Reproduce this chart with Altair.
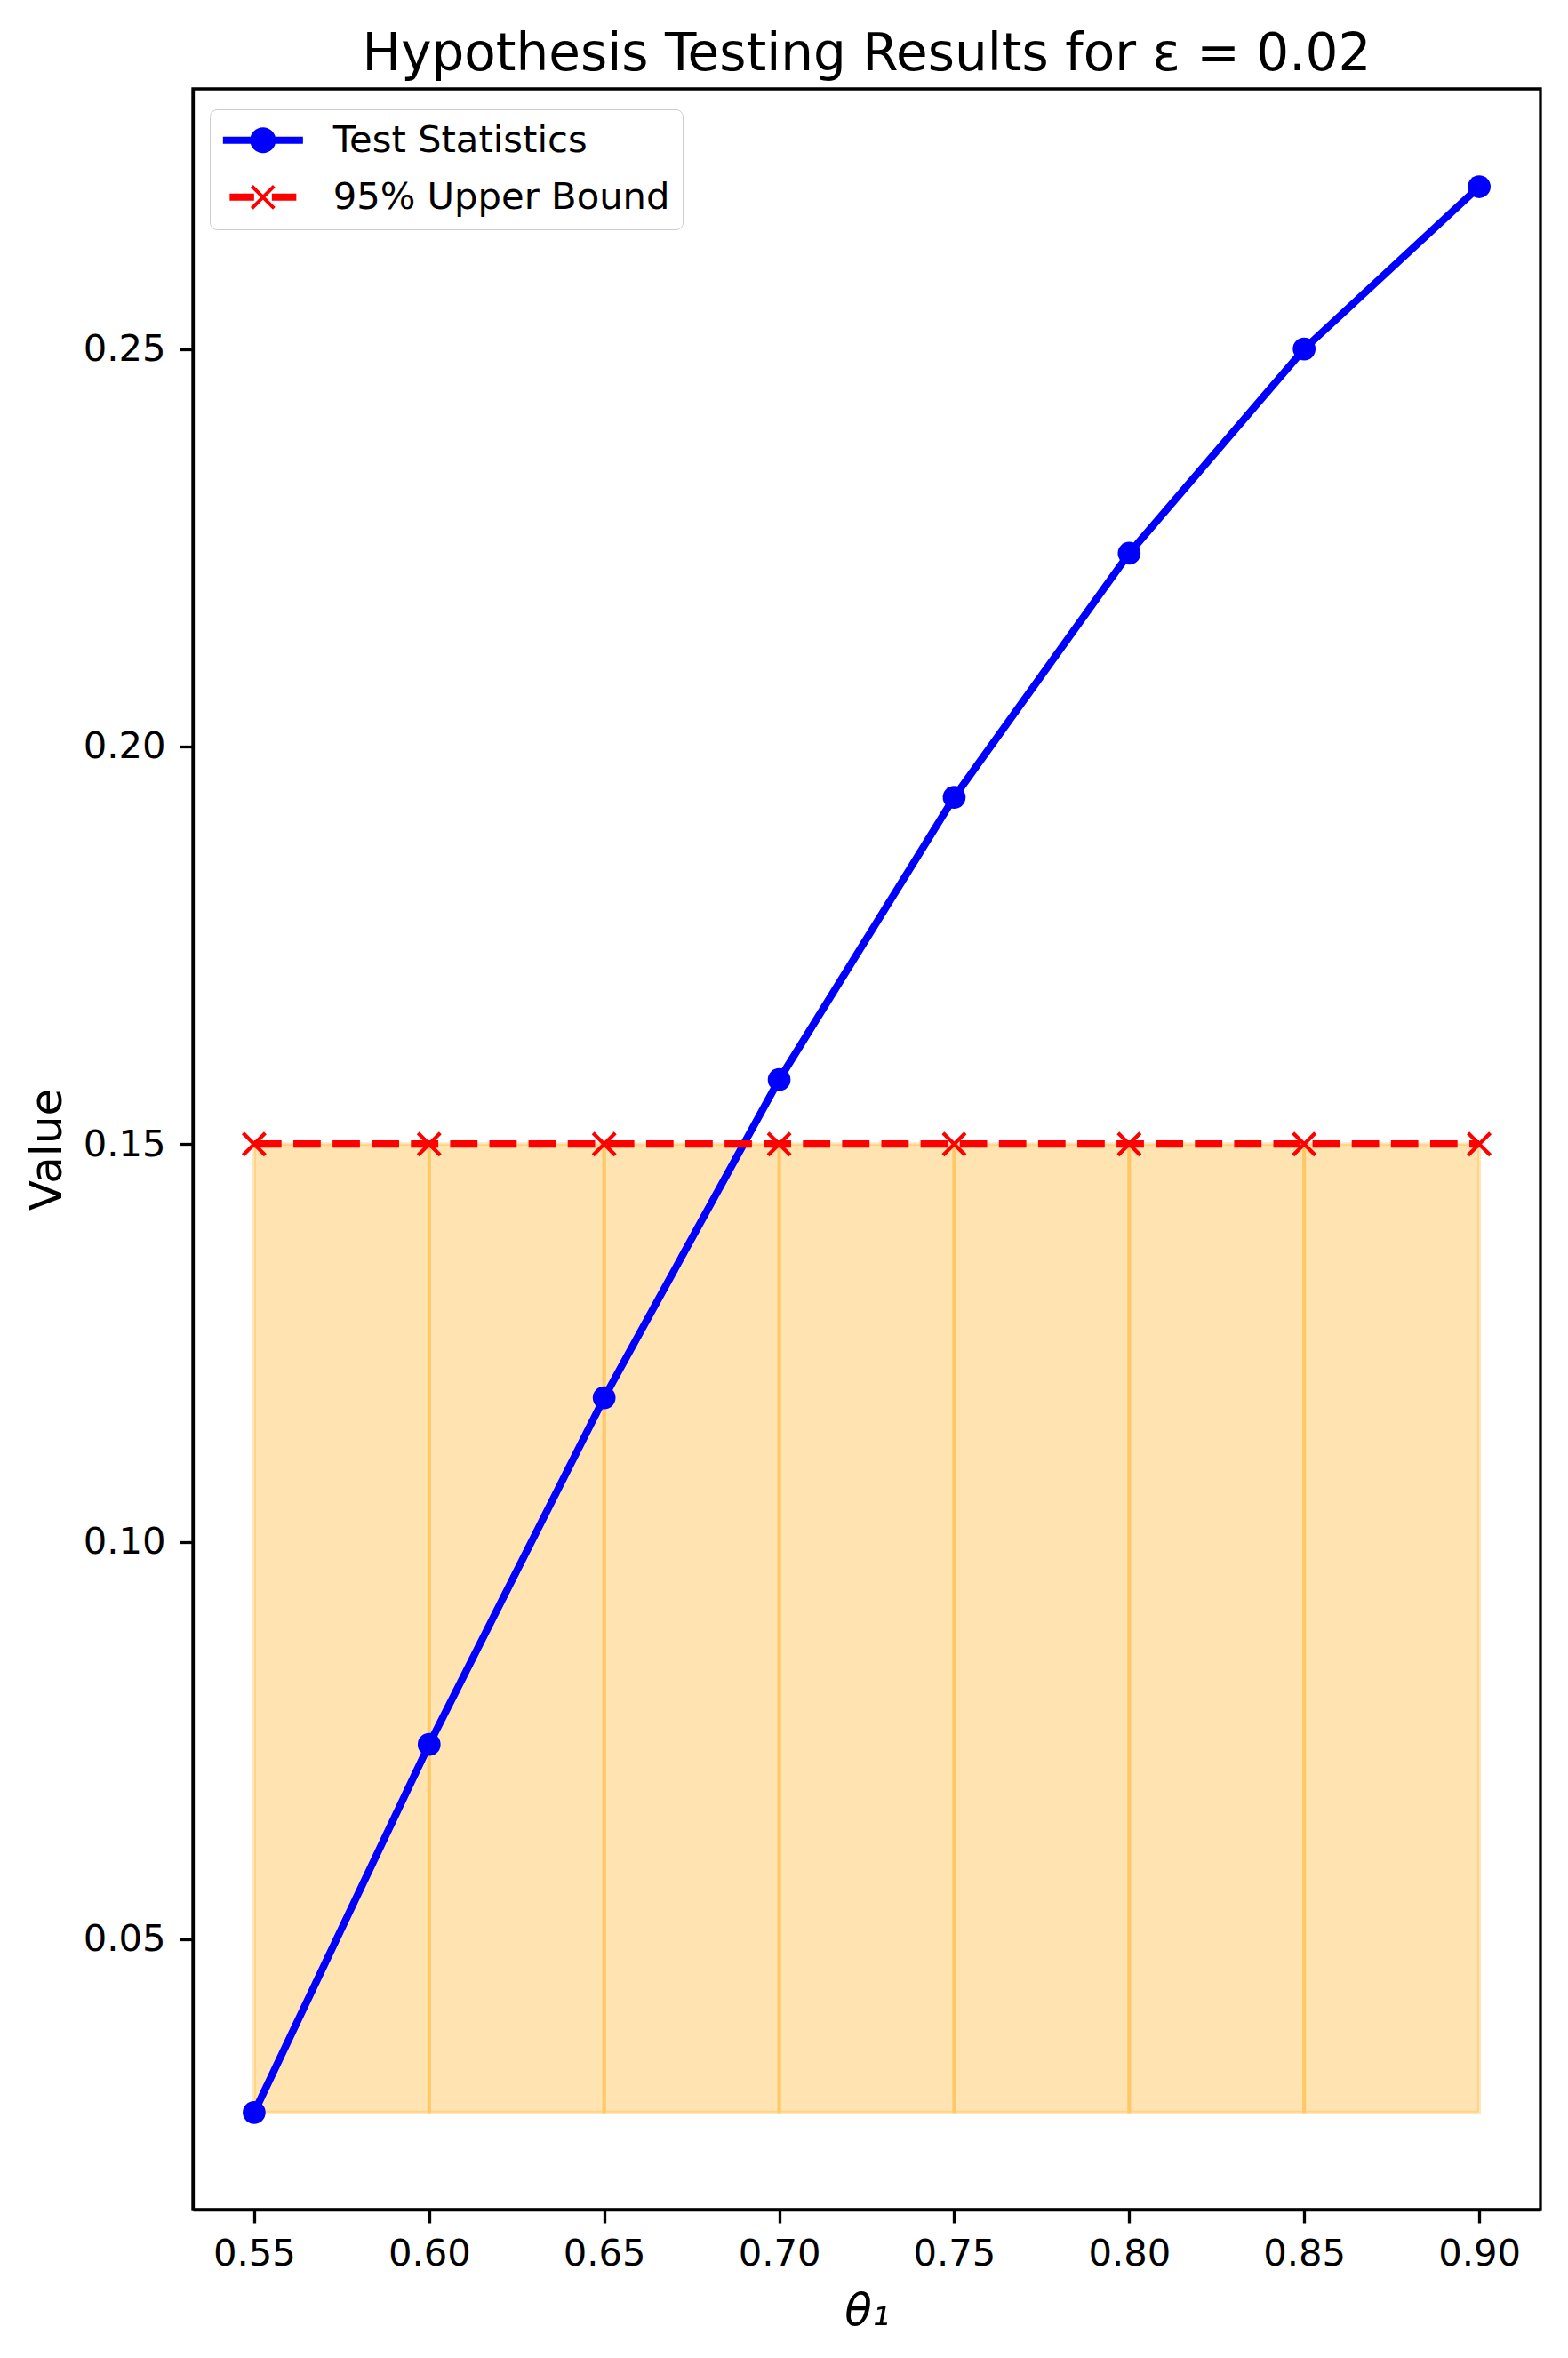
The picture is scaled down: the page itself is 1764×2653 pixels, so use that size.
import altair as alt
import pandas as pd

# ---- data ----
theta = [0.55, 0.60, 0.65, 0.70, 0.75, 0.80, 0.85, 0.90]
test_stat = [0.0282, 0.0745, 0.1181, 0.1581, 0.1936, 0.2243, 0.2500, 0.2704]
upper_bound = [0.15, 0.15, 0.15, 0.15, 0.15, 0.15, 0.15, 0.15]
series_names = ["Test Statistics", "95% Upper Bound"]
x_ticks = [0.55, 0.60, 0.65, 0.70, 0.75, 0.80, 0.85, 0.90]
y_ticks = [0.05, 0.10, 0.15, 0.20, 0.25]
title_text = "Hypothesis Testing Results for ε = 0.02"

FONT = "DejaVu Sans"

df_stat = pd.DataFrame({"theta": theta, "value": test_stat, "series": series_names[0]})
df_up = pd.DataFrame({"theta": theta, "value": upper_bound, "series": series_names[1]})
fill_low = min(test_stat)
df_fill = pd.DataFrame({
    "theta": theta[:-1],
    "theta_next": theta[1:],
    "value": [fill_low] * (len(theta) - 1),
    "top": upper_bound[:-1],
})
df_leg = pd.DataFrame({"series": series_names})

xscale = alt.Scale(domain=[0.5325, 0.9175], nice=False, zero=False)
yscale = alt.Scale(domain=[0.0160, 0.2827], nice=False, zero=False)

xaxis = alt.Axis(values=x_ticks, format=".2f", labelPadding=14, title="θ₁",
                 titleFontStyle="italic", titleX=758, titleY=129,
                 titleBaseline="alphabetic", titleAnchor="middle")
yaxis = alt.Axis(values=y_ticks, format=".2f", labelPadding=16, title="Value",
                 titleAngle=270, titleX=-149, titleY=1193,
                 titleBaseline="alphabetic", titleAlign="center")

X = alt.X("theta:Q", scale=xscale, axis=xaxis)
Y = alt.Y("value:Q", scale=yscale, axis=yaxis)

fill = alt.Chart(df_fill).mark_rect(
    fill="orange", fillOpacity=0.3, stroke="orange", strokeOpacity=0.25, strokeWidth=4
).encode(x=X, x2="theta_next:Q", y=Y, y2="top:Q")

blue_line = alt.Chart(df_stat).mark_line(color="blue", strokeWidth=8.3).encode(x=X, y=Y)
blue_pts = alt.Chart(df_stat).mark_point(
    filled=True, shape="circle", size=660, color="blue", opacity=1
).encode(x=X, y=Y)

red_line = alt.Chart(df_up).mark_line(
    color="red", strokeWidth=8.3, strokeDash=[30.8, 13.3]
).encode(x=X, y=Y)
red_pts = alt.Chart(df_up).mark_point(
    shape="M-1,-1L1,1M-1,1L1,-1", filled=False, size=625, color="red",
    strokeWidth=4.2, opacity=1
).encode(x=X, y=Y)

# legend symbols (line + marker)
path_blue = ("M-2.25,-0.2L2.25,-0.2L2.25,0.2L-2.25,0.2Z "
             "M-0.725,0A0.725,0.725 0 1,1 0.725,0A0.725,0.725 0 1,1 -0.725,0Z")
a, d = 0.625, 0.0707
path_red = (
    "M-1.875,-0.2L-0.5,-0.2L-0.5,0.2L-1.875,0.2Z "
    "M0.5,-0.2L1.875,-0.2L1.875,0.2L0.5,0.2Z "
    f"M{-a+d},{-a-d}L{a+d},{a-d}L{a-d},{a+d}L{-a-d},{-a+d}Z "
    f"M{-a-d},{a-d}L{a-d},{-a-d}L{a+d},{-a+d}L{-a+d},{a+d}Z"
)

leg = alt.Legend(
    title=None, orient="none", legendX=19, legendY=23, padding=14, rowPadding=21,
    symbolOffset=25, labelOffset=58, symbolSize=1600, symbolStrokeWidth=0,
    symbolOpacity=1, labelFont=FONT, labelFontSize=41.7, labelColor="black",
    strokeColor="#cccccc", cornerRadius=8, fillColor="white", labelLimit=1000,
)
legend_layer = alt.Chart(df_leg).mark_point(filled=True, opacity=0, size=1600).encode(
    color=alt.Color("series:N", scale=alt.Scale(domain=series_names, range=["blue", "red"]),
                    legend=leg),
    shape=alt.Shape("series:N", scale=alt.Scale(domain=series_names, range=[path_blue, path_red]),
                    legend=leg),
)

chart = alt.layer(fill, blue_line, blue_pts, red_line, red_pts, legend_layer).properties(
    width=1516, height=2386,
    background="white",
    autosize=alt.AutoSizeParams(type="none"),
    padding={"left": 209, "top": 92, "right": 23, "bottom": 159},
    title=alt.TitleParams(text=title_text, fontSize=58, font=FONT, fontWeight="normal",
                          anchor="middle", baseline="alphabetic", offset=-37, color="black",
                          frame="group"),
).configure_view(stroke="black", strokeWidth=3.3).configure_axis(
    grid=False, domainColor="black", domainWidth=3.3, tickColor="black", tickWidth=3.3,
    tickSize=15, labelFont=FONT, labelFontSize=41.7, labelColor="black",
    titleFont=FONT, titleFontSize=50, titleFontWeight="normal", titleColor="black",
)

chart.save("out.html", embed_options={"renderer": "svg", "actions": False})
